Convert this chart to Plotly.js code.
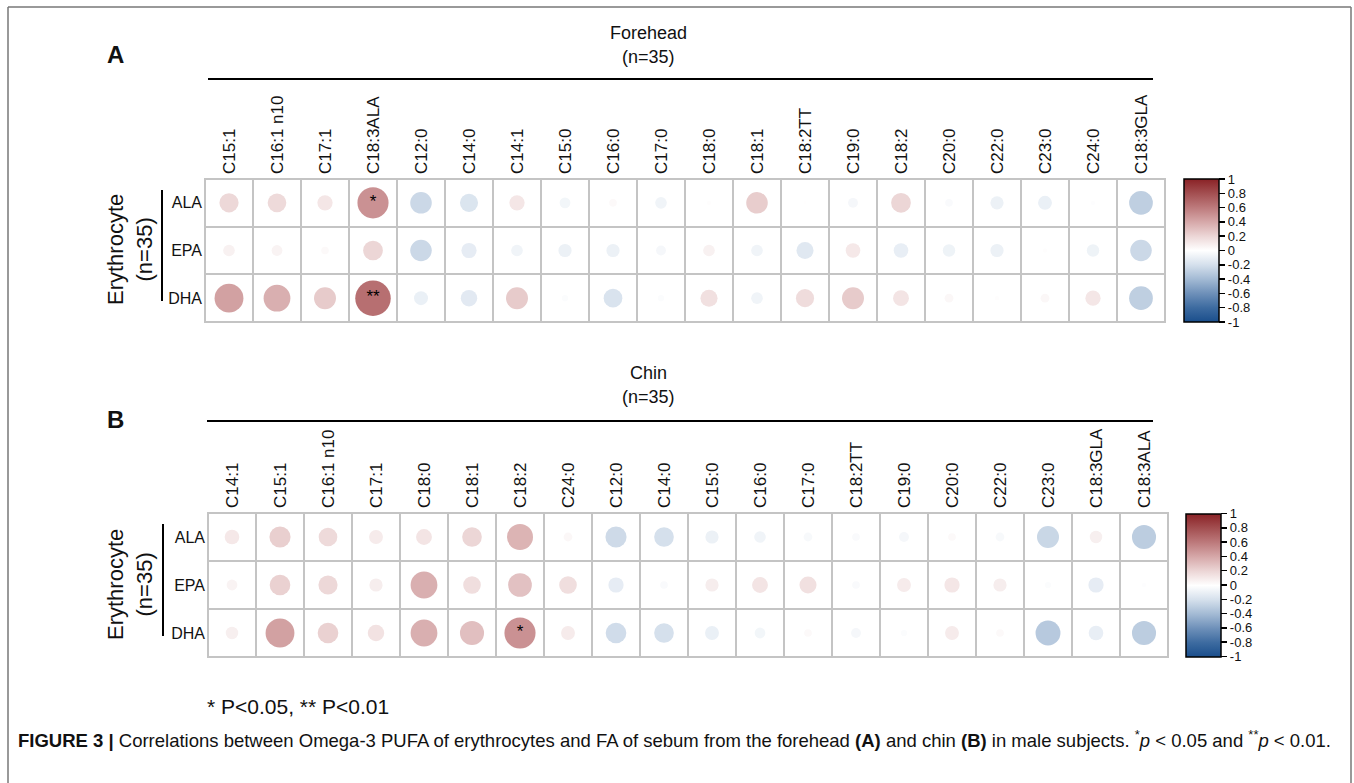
<!DOCTYPE html>
<html>
<head>
<meta charset="utf-8">
<script src="https://cdn.plot.ly/plotly-3.0.1.min.js"></script>
<style>html,body{margin:0;padding:0;background:#fff;}#chart{width:1354px;height:783px;}</style>
</head>
<body>
<div id="chart"></div>
<script>
// ---------- DATA ----------
const rowLabels = ['ALA', 'EPA', 'DHA'];

const colsA = ['C15:1','C16:1 n10','C17:1','C18:3ALA','C12:0','C14:0','C14:1','C15:0','C16:0','C17:0',
               'C18:0','C18:1','C18:2TT','C19:0','C18:2','C20:0','C22:0','C23:0','C24:0','C18:3GLA'];
const rA_ALA = [0.19,0.18,0.12,0.50,-0.24,-0.17,0.12,-0.06,0.03,-0.07,0.01,0.24,0.005,-0.05,0.20,-0.03,-0.09,-0.10,-0.01,-0.29];
const rA_EPA = [0.07,0.06,0.03,0.20,-0.24,-0.12,-0.07,-0.09,-0.09,-0.05,0.07,-0.07,-0.15,0.11,-0.11,-0.08,-0.09,0.01,-0.08,-0.24];
const rA_DHA = [0.43,0.37,0.25,0.65,-0.10,-0.14,0.25,-0.02,-0.18,-0.02,0.15,-0.07,0.17,0.25,0.13,0.04,0.01,0.04,0.12,-0.29];
const sigA_ALA = ['','','','*','','','','','','','','','','','','','','','',''];
const sigA_EPA = ['','','','','','','','','','','','','','','','','','','',''];
const sigA_DHA = ['','','','**','','','','','','','','','','','','','','','',''];

const colsB = ['C14:1','C15:1','C16:1 n10','C17:1','C18:0','C18:1','C18:2','C24:0','C12:0','C14:0',
               'C15:0','C16:0','C17:0','C18:2TT','C19:0','C20:0','C22:0','C23:0','C18:3GLA','C18:3ALA'];
const rB_ALA = [0.11,0.23,0.18,0.10,0.13,0.20,0.35,0.04,-0.23,-0.20,-0.09,-0.07,-0.04,-0.03,-0.05,0.03,-0.04,-0.25,0.08,-0.30];
const rB_EPA = [0.06,0.22,0.19,0.09,0.37,0.16,0.29,0.16,-0.12,-0.03,0.09,0.13,0.15,-0.03,0.10,0.12,0.09,-0.02,-0.12,-0.01];
const rB_DHA = [0.08,0.43,0.22,0.14,0.37,0.30,0.50,0.10,-0.22,-0.20,-0.10,-0.06,0.03,-0.05,-0.02,0.10,0.03,-0.32,-0.11,-0.30];
const sigB_ALA = ['','','','','','','','','','','','','','','','','','','',''];
const sigB_EPA = ['','','','','','','','','','','','','','','','','','','',''];
const sigB_DHA = ['','','','','','','*','','','','','','','','','','','','',''];

const cbTickVals = [1,0.8,0.6,0.4,0.2,0,-0.2,-0.4,-0.6,-0.8,-1];
const cbTickText = ['1','0.8','0.6','0.4','0.2','0','-0.2','-0.4','-0.6','-0.8','-1'];

// ---------- STYLE ----------
const W = 1354, H = 783;
const px = x => x / W;
const py = y => 1 - y / H;
const FONT = 'Liberation Sans, Arial, Helvetica, sans-serif';
const MAXD = 44;
const corrScale = [
  [0.0, '#1a4e8c'], [0.1, '#3d6ba0'], [0.2, '#6e90b9'], [0.3, '#a3bad4'],
  [0.4, '#d5e0ec'], [0.5, '#ffffff'], [0.6, '#ecd6d6'], [0.7, '#d6a8a9'],
  [0.8, '#bd7a7c'], [0.9, '#a34f51'], [1.0, '#8a2226']
];

function panel(cols, rowsR, rowsSig, xa, ya, cbY, cbX) {
  const x = [], y = [], r = [];
  const sx = [], sy = [], st = [];
  rowsR.forEach((arr, i) => arr.forEach((v, j) => {
    x.push(cols[j]); y.push(rowLabels[i]); r.push(v);
    if (rowsSig[i][j]) { sx.push(cols[j]); sy.push(rowLabels[i]); st.push(rowsSig[i][j]); }
  }));
  const bg = {
    type: 'heatmap', x: cols, y: rowLabels,
    z: rowLabels.map(() => cols.map(() => 0)),
    colorscale: [[0, '#ffffff'], [1, '#ffffff']], showscale: false,
    xgap: 2, ygap: 2, hoverinfo: 'skip', xaxis: xa, yaxis: ya
  };
  const dots = {
    type: 'scatter', mode: 'markers', x: x, y: y,
    marker: {
      size: r.map(v => MAXD * Math.sqrt(Math.abs(v))),
      color: r, cmin: -1, cmax: 1, colorscale: corrScale,
      line: {width: 0}, opacity: 1,
      showscale: true,
      colorbar: {
        x: cbX, xanchor: 'left', xpad: 0, ypad: 0,
        y: cbY, yanchor: 'middle', len: 143 / H, lenmode: 'fraction',
        thickness: 35, thicknessmode: 'pixels',
        outlinecolor: '#000', outlinewidth: 1.5,
        tickvals: cbTickVals, ticktext: cbTickText,
        ticks: 'outside', ticklen: 6, tickwidth: 1.5, tickcolor: '#000',
        tickfont: {family: FONT, size: 13, color: '#111'}
      }
    },
    hovertemplate: '%{y} vs %{x}: %{marker.color}<extra></extra>',
    xaxis: xa, yaxis: ya
  };
  const stars = {
    type: 'scatter', mode: 'text', x: sx, y: sy, text: st,
    textposition: 'middle center',
    textfont: {family: FONT, size: 17, color: '#000'},
    hoverinfo: 'skip', xaxis: xa, yaxis: ya
  };
  return [bg, dots, stars];
}

const traces = [].concat(
  panel(colsA, [rA_ALA, rA_EPA, rA_DHA], [sigA_ALA, sigA_EPA, sigA_DHA], 'x', 'y', py(250.5), px(1184)),
  panel(colsB, [rB_ALA, rB_EPA, rB_DHA], [sigB_ALA, sigB_EPA, sigB_DHA], 'x2', 'y2', py(585), px(1186))
);

const xAxisBase = {
  side: 'top', tickangle: -90, showgrid: false, zeroline: false, showline: false,
  ticks: '', ticklabelstandoff: 4, tickfont: {family: FONT, size: 17, color: '#111'},
  fixedrange: true
};
const yAxisBase = {
  range: [rowLabels.length - 0.5, -0.5], showgrid: false, zeroline: false, showline: false,
  ticks: '', ticklabelstandoff: 2, tickfont: {family: FONT, size: 16, color: '#111'},
  fixedrange: true
};

const shapes = [
  // outer frame
  {type: 'line', xref: 'paper', yref: 'paper', x0: px(8), x1: px(1351), y0: py(7), y1: py(7), line: {color: '#777', width: 1.5}},
  {type: 'line', xref: 'paper', yref: 'paper', x0: px(8), x1: px(8), y0: py(7), y1: py(783), line: {color: '#777', width: 1.5}},
  {type: 'line', xref: 'paper', yref: 'paper', x0: px(1351), x1: px(1351), y0: py(7), y1: py(783), line: {color: '#777', width: 1.5}},
  // header rules
  {type: 'line', xref: 'paper', yref: 'paper', x0: px(208), x1: px(1153), y0: py(79), y1: py(79), line: {color: '#000', width: 2}},
  {type: 'line', xref: 'paper', yref: 'paper', x0: px(207), x1: px(1153), y0: py(421), y1: py(421), line: {color: '#000', width: 2}},
  // row bracket bars
  {type: 'line', xref: 'paper', yref: 'paper', x0: px(162), x1: px(162), y0: py(190), y1: py(301), line: {color: '#000', width: 2}},
  {type: 'line', xref: 'paper', yref: 'paper', x0: px(163), x1: px(163), y0: py(524), y1: py(636), line: {color: '#000', width: 2}},
  // grid outer borders
  {type: 'rect', xref: 'x domain', yref: 'y domain', x0: 0, x1: 1, y0: 0, y1: 1, line: {color: '#c4c4c4', width: 2}},
  {type: 'rect', xref: 'x2 domain', yref: 'y2 domain', x0: 0, x1: 1, y0: 0, y1: 1, line: {color: '#c4c4c4', width: 2}}
];

const ann = (x, y, text, size, extra) => Object.assign({
  xref: 'paper', yref: 'paper', x: px(x), y: py(y), text: text, showarrow: false,
  font: {family: FONT, size: size, color: '#111'}, xanchor: 'center', yanchor: 'middle'
}, extra || {});

const annotations = [
  ann(115, 55, '<b>A</b>', 24),
  ann(648, 33, 'Forehead', 18),
  ann(648, 57, '(n=35)', 18),
  ann(130, 250, 'Erythrocyte<br>(n=35)', 22, {textangle: -90}),
  ann(115, 419, '<b>B</b>', 24),
  ann(648, 373, 'Chin', 18),
  ann(648, 397, '(n=35)', 18),
  ann(130, 585, 'Erythrocyte<br>(n=35)', 22, {textangle: -90}),
  ann(205, 706, '* P<0.05, ** P<0.01', 21, {xanchor: 'left'}),
  ann(16, 739, '<b>FIGURE 3 |</b> Correlations between Omega-3 PUFA of erythrocytes and FA of sebum from the forehead <b>(A)</b> and chin <b>(B)</b> in male subjects. <sup>*</sup><i>p</i> &lt; 0.05 and <sup>**</sup><i>p</i> &lt; 0.01.', 18.5, {xanchor: 'left'})
];

const layout = {
  width: W, height: H,
  margin: {l: 0, r: 0, t: 0, b: 0},
  paper_bgcolor: '#ffffff', plot_bgcolor: '#c4c4c4',
  showlegend: false,
  xaxis: Object.assign({}, xAxisBase, {domain: [px(205), px(1165)], anchor: 'y', range: [-0.5, colsA.length - 0.5]}),
  yaxis: Object.assign({}, yAxisBase, {domain: [py(322), py(179)], anchor: 'x'}),
  xaxis2: Object.assign({}, xAxisBase, {domain: [px(208), px(1168)], anchor: 'y2', range: [-0.5, colsB.length - 0.5]}),
  yaxis2: Object.assign({}, yAxisBase, {domain: [py(657), py(513)], anchor: 'x2'}),
  shapes: shapes,
  annotations: annotations
};

Plotly.newPlot('chart', traces, layout, {displayModeBar: false, staticPlot: true});
</script>
</body>
</html>
